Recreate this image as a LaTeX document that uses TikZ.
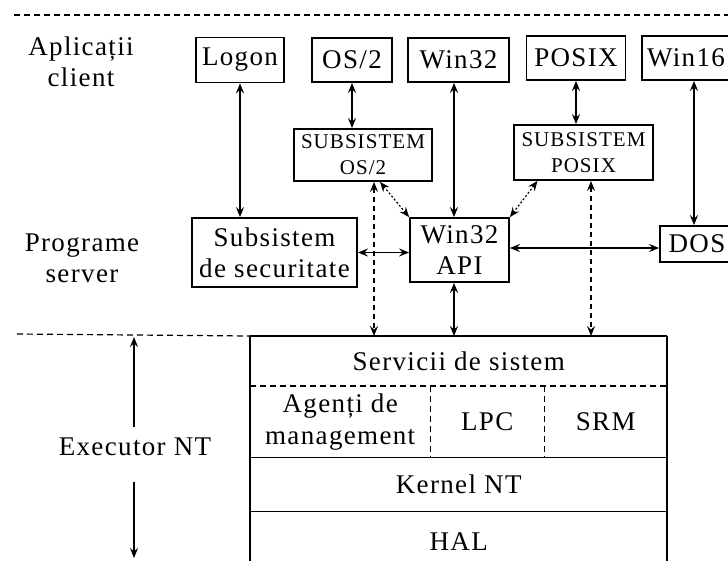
\documentclass[tikz,border=0pt]{standalone}
\usepackage{fontspec}
\setmainfont[LetterSpace=5]{Liberation Serif}
\usetikzlibrary{arrows.meta}
\begin{document}
\begin{tikzpicture}[x=1pt,y=-1pt,
  box/.style={draw, line width=1.8pt, inner sep=0pt, align=center, font=\fontsize{27}{31}\selectfont},
  smallbox/.style={box, font=\fontsize{21}{26}\selectfont},
  lbl/.style={align=center, font=\fontsize{27}{31}\selectfont, inner sep=0pt},
  cell/.style={inner sep=0pt, align=center, font=\fontsize{27}{32}\selectfont, anchor=north west},
  arr/.style={line width=1.6pt, {Stealth[length=10pt,width=8pt,inset=3.5pt]}-{Stealth[length=10pt,width=8pt,inset=3.5pt]}},
  uparr/.style={line width=1.5pt, -{Stealth[length=10pt,width=8pt,inset=3.5pt]}},
  darr/.style={arr, line width=1.2pt, dash pattern=on 5pt off 4pt},
  dotarr/.style={arr, line width=1.2pt, dash pattern=on 2pt off 2pt},
  rowline/.style={line width=1.6pt},
  dline/.style={line width=1.2pt, dash pattern=on 6pt off 4pt}]
\useasboundingbox (0,0) rectangle (728,560);
\clip (0,0) rectangle (728,560);
\fill[white] (0,0) rectangle (728,560);

% separators
\coordinate (topl) at (14,15);
\coordinate (topr) at (728,15);
\draw[dline] (topl) -- (topr);

% left labels
\node[lbl] (apl) at (81,62) {Aplicații\\client};
\node[lbl] (prog) at (82,258) {Programe\\server};
\node[lbl] (exlbl) at (135,447) {Executor NT};

% client applications
\node[box, minimum width=88pt, minimum height=45pt] (logon) at (240,60) {Logon};
\node[box, minimum width=80pt, minimum height=44pt] (os2) at (352,60) {OS/2};
\node[box, minimum width=101pt, minimum height=44pt] (win32) at (458.5,60) {Win32};
\node[box, minimum width=99pt, minimum height=44pt] (posix) at (576,58) {POSIX};
\node[box, minimum width=88pt, minimum height=44pt] (win16) at (686,58) {Win16};

% subsystems
\node[smallbox, minimum width=138pt, minimum height=52pt] (subos2) at (363,155) {SUBSISTEM\\OS/2};
\node[smallbox, minimum width=139pt, minimum height=55pt] (subposix) at (583.5,152.5) {SUBSISTEM\\POSIX};

% server programs
\node[box, minimum width=165pt, minimum height=69pt] (sec) at (274.5,252.5) {Subsistem\\de securitate};
\node[box, minimum width=99pt, minimum height=64pt] (api) at (459.5,250) {Win32\\API};
\node[box, minimum width=74pt, minimum height=36pt] (dos) at (697,244) {DOS};

% executive block
\node[cell, minimum width=417pt, minimum height=50pt] (serv) at (250,336) {Servicii de sistem};
\node[cell, minimum width=180pt, minimum height=71pt] (agent) at (250,386) {Agenți de\\management};
\node[cell, minimum width=114pt, minimum height=71pt] (lpc) at (430,386) {LPC};
\node[cell, minimum width=123pt, minimum height=71pt] (srm) at (544,386) {SRM};
\node[cell, minimum width=417pt, minimum height=54pt] (kernel) at (250,457) {Kernel NT};
\node[cell, minimum width=417pt, minimum height=60pt] (hal) at (250,511) {HAL};

\draw[line width=2.8pt] (serv.north west) -- (serv.north east);
\draw[line width=1.9pt] (serv.north west) -- (hal.south west);
\draw[line width=1.9pt] (serv.north east) -- (hal.south east);
\draw[dline] (agent.north west) -- (srm.north east);
\draw[dline] (agent.north east) -- (agent.south east);
\draw[dline] (lpc.north east) -- (lpc.south east);
\draw[rowline] (agent.south west) -- (srm.south east);
\draw[rowline] (kernel.south west) -- (kernel.south east);

% lower dashed separator
\coordinate (lowl) at (17,334);
\draw[dline] (lowl) -- (serv.north west);

% executor arrows
\coordinate (extop) at (134,337);
\coordinate (exbot) at (134,558);
\draw[uparr, shorten <=11pt] (exlbl.north -| extop) -- (extop);
\draw[uparr, shorten <=26pt] (exlbl.south -| exbot) -- (exbot);

% connectors
\draw[arr] (logon.south) -- (logon.south |- sec.north);
\draw[arr] (os2.south) -- (os2.south |- subos2.north);
\draw[arr] ([xshift=-4.5pt]win32.south) -- ([xshift=-4.5pt]win32.south |- api.north);
\draw[arr] (posix.south) -- (posix.south |- subposix.north);
\draw[arr] ([xshift=8pt]win16.south) -- ([xshift=8pt]win16.south |- dos.north);

\draw[dotarr] ([xshift=17pt]subos2.south) -- (api.north west);
\draw[dotarr] ([xshift=-46pt]subposix.south) -- (api.north east);

\draw[darr] ([xshift=11pt]subos2.south) -- ([xshift=11pt]subos2.south |- serv.north);
\draw[darr] ([xshift=7.5pt]subposix.south) -- ([xshift=7.5pt]subposix.south |- serv.north);
\draw[arr] ([xshift=-5.5pt]api.south) -- ([xshift=-5.5pt]api.south |- serv.north);

\draw[arr] (sec.east) -- (sec.east -| api.west);
\draw[arr] ([yshift=2pt]api.east) -- ([yshift=2pt]api.east -| dos.west);
\end{tikzpicture}
\end{document}
